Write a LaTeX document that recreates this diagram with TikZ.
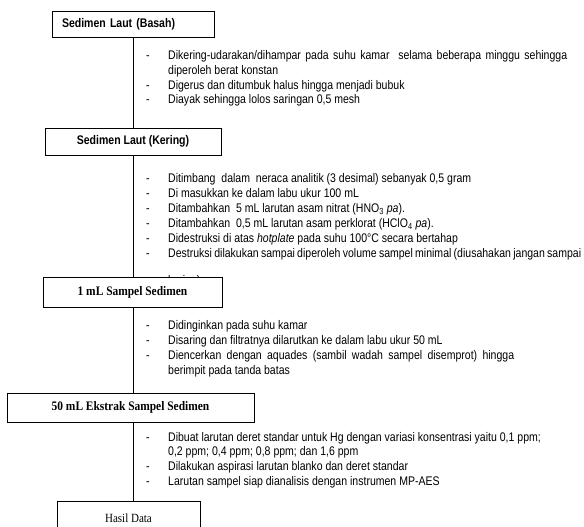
\documentclass[tikz,border=0pt]{standalone}
\usepackage{fontspec}
\setmainfont{Liberation Sans}[FakeStretch=0.842]
\newfontfamily\hserif{Liberation Serif}[FakeStretch=0.88]
\begin{document}
\begin{tikzpicture}[x=1pt,y=-1pt]
\tikzset{
  box/.style={draw=black, line width=0.8pt, fill=white, inner sep=0pt, minimum height=26pt},
  sanshead/.style={font=\fontsize{12.5}{14}\selectfont\bfseries},
  serifhead/.style={font=\hserif\fontsize{13}{15}\selectfont\bfseries},
  serifplain/.style={font=\hserif\fontsize{12.5}{15}\selectfont},
  item/.style={anchor=base west, inner sep=0pt, font=\fontsize{12.5}{15}\selectfont},
  dashmark/.style={anchor=base, inner sep=0pt, font=\fontsize{12.5}{15}\selectfont},
  link/.style={draw=black, line width=0.8pt}
}
\useasboundingbox (0,0) rectangle (584,527);
\fill[white] (0,0) rectangle (584,527);

% spine
\coordinate (spine) at (133,0);

% ---- section 1 texts
\node[dashmark] (d11) at (148,59.5) {-};
\node[item] (t11) at (168,59.5) {\makebox[399pt][s]{Dikering-udarakan/dihampar pada suhu kamar\ \ selama beberapa minggu sehingga}};
\node[item] (t11b) at (168,74.5) {diperoleh berat konstan};
\node[dashmark] (d12) at (148,89) {-};
\node[item] (t12) at (168,89) {Digerus dan ditumbuk halus hingga menjadi\ bubuk};
\node[dashmark] (d13) at (148,103.5) {-};
\node[item] (t13) at (168,103.5) {Diayak\ sehingga lolos saringan 0,5 mesh};

% ---- section 2 texts
\node[dashmark] (d21) at (148,182.5) {-};
\node[item] (t21) at (168,182.5) {Ditimbang\ \ dalam\ \ neraca analitik (3 desimal) sebanyak 0,5 gram};
\node[dashmark] (d22) at (148,197.5) {-};
\node[item] (t22) at (168,197.5) {Di masukkan ke dalam labu ukur 100 mL};
\node[dashmark] (d23) at (148,212.5) {-};
\node[item] (t23) at (168,212.5) {Ditambahkan\ \ 5 mL larutan asam nitrat (HNO\textsubscript{3} \textit{pa}).};
\node[dashmark] (d24) at (148,227.5) {-};
\node[item] (t24) at (168,227.5) {Ditambahkan\ \ 0,5 mL larutan asam perklorat (HClO\textsubscript{4} \textit{pa}).};
\node[dashmark] (d25) at (148,242.5) {-};
\node[item] (t25) at (168,242.5) {Didestruksi di atas \textit{hotplate} pada suhu 100°C secara bertahap};
\node[dashmark] (d26) at (148,257.5) {-};
\node[item] (t26) at (168,257.5) {\makebox[413pt][s]{Destruksi dilakukan sampai diperoleh volume sampel minimal (diusahakan jangan sampai}};
\node[item] (t26b) at (168,284) {kering)};

% ---- section 3 texts
\node[dashmark] (d31) at (148,329) {-};
\node[item] (t31) at (168,329) {Didinginkan\ pada suhu kamar};
\node[dashmark] (d32) at (148,344) {-};
\node[item] (t32) at (168,344) {Disaring dan filtratnya dilarutkan ke\ dalam\ labu ukur 50 mL};
\node[dashmark] (d33) at (148,359) {-};
\node[item] (t33) at (168,359) {\makebox[346pt][s]{Diencerkan dengan aquades (sambil wadah sampel disemprot) hingga}};
\node[item] (t33b) at (168,374) {berimpit\ pada tanda batas};

% ---- section 4 texts
\node[dashmark] (d41) at (148,441) {-};
\node[item] (t41) at (168,441) {Dibuat\ larutan deret standar untuk\ Hg dengan variasi konsentrasi yaitu 0,1 ppm;};
\node[item] (t41b) at (168,455.5) {0,2 ppm; 0,4 ppm;\ 0,8 ppm; dan 1,6 ppm};
\node[dashmark] (d42) at (148,470) {-};
\node[item] (t42) at (168,470) {Dilakukan\ aspirasi larutan blanko\ dan deret standar};
\node[dashmark] (d43) at (148,485) {-};
\node[item] (t43) at (168,485) {Larutan sampel\ siap dianalisis dengan instrumen MP-AES};

% ---- boxes
\node[box, sanshead, minimum width=162pt, text width=142pt, align=left] (b1) at (133,24) {Sedimen Laut (Basah)};
\node[box, sanshead, minimum width=176pt, minimum height=27pt] (b2) at (133,141.5) {Sedimen Laut (Kering)};
\node[box, serifhead, minimum width=179pt, minimum height=30pt] (b3) at (132.5,292) {1 mL Sampel Sedimen};
\node[box, serifhead, minimum width=247pt, minimum height=29pt] (b4) at (130.5,407.5) {50 mL Ekstrak Sampel Sedimen};
\node[box, serifplain, minimum width=143pt, minimum height=34pt] (b5) at (128.5,518) {Hasil Data};

% ---- connectors
\draw[link] (b1.south -| spine) -- (b2.north -| spine);
\draw[link] (b2.south -| spine) -- (b3.north -| spine);
\draw[link] (b3.south -| spine) -- (b4.north -| spine);
\draw[link] (b4.south -| spine) -- (b5.north -| spine);
\end{tikzpicture}
\end{document}
